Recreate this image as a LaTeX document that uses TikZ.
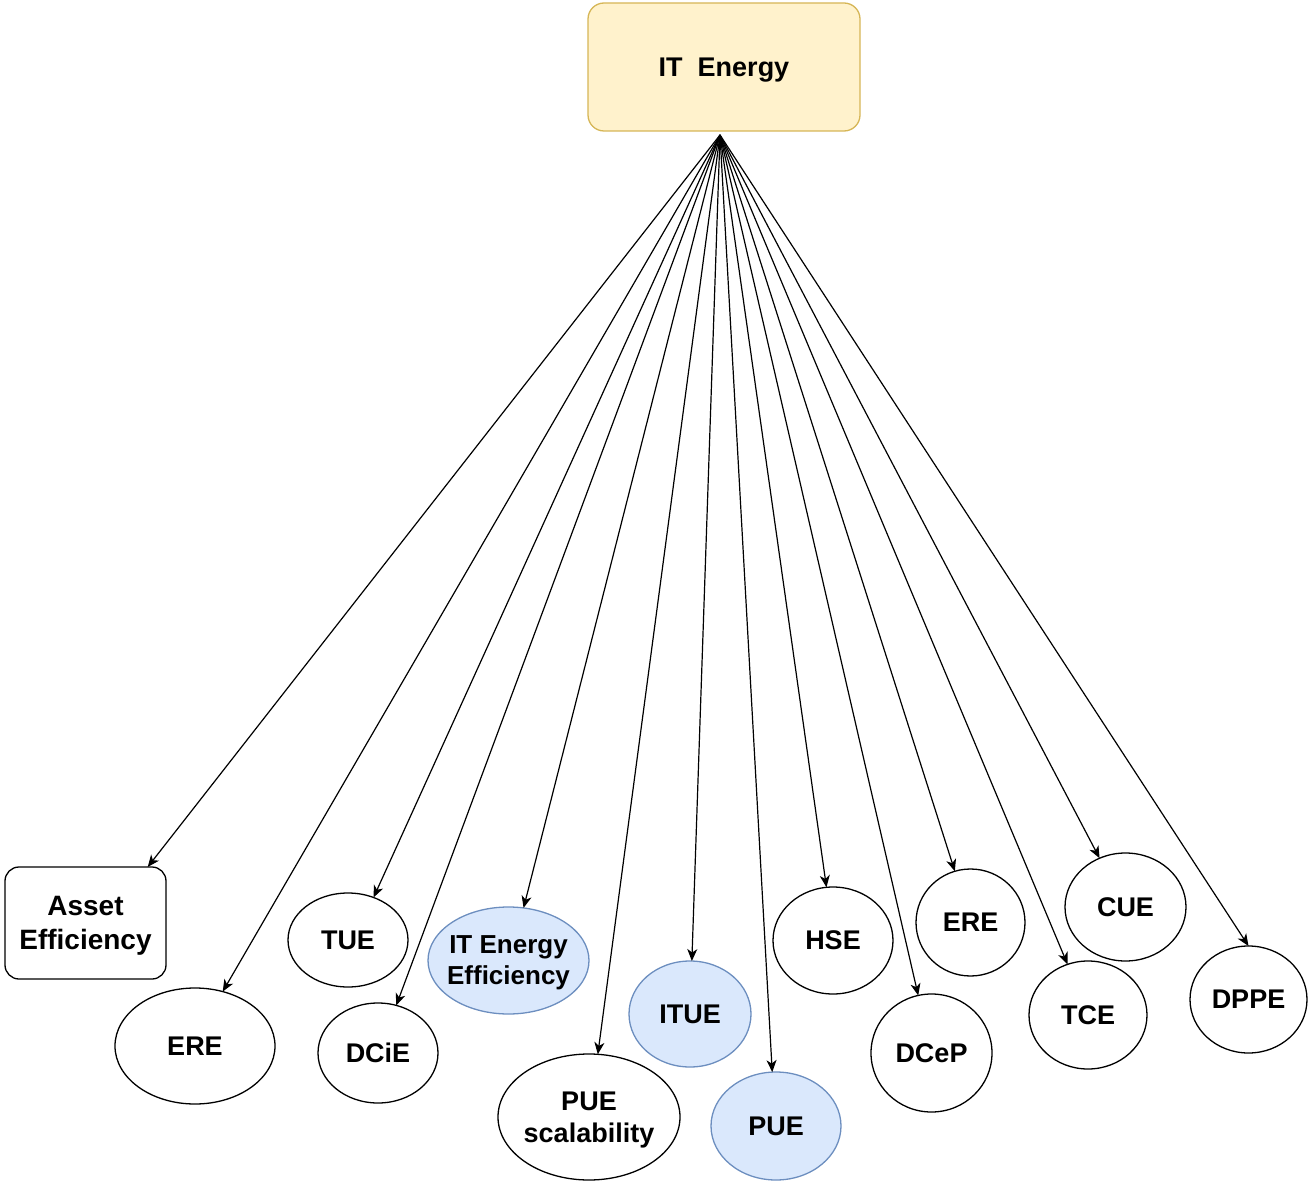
\documentclass[tikz,border=0pt]{standalone}
\usepackage{fontspec}
\setmainfont{Liberation Sans}
\usetikzlibrary{shapes.geometric,arrows.meta}
\definecolor{boxyellow}{HTML}{FFF2CC}
\definecolor{lineyellow}{HTML}{D6B656}
\definecolor{boxblue}{HTML}{DAE8FC}
\definecolor{lineblue}{HTML}{6C8EBF}
\begin{document}
\begin{tikzpicture}[x=1pt,y=-1pt,
  every node/.style={font=\bfseries\fontsize{27}{32}\selectfont, align=center, inner sep=0pt, outer sep=0pt, text depth=0pt},
  metric/.style={ellipse, draw=black, line width=1.3pt, fill=white},
  bluemetric/.style={ellipse, draw=lineblue, line width=1.3pt, fill=boxblue},
  rootbox/.style={rectangle, rounded corners=16pt, draw=lineyellow, line width=1.3pt, fill=boxyellow},
  plainbox/.style={rectangle, rounded corners=14pt, draw=black, line width=1.3pt, fill=white},
  link/.style={-{Stealth[length=12pt,width=10pt,inset=3.5pt]}, line width=1.2pt, black}
]
\useasboundingbox (0,0) rectangle (1309,1182);

% root
\node[rootbox, minimum width=272, minimum height=128] (top) at (724,67) {IT\ \ Energy};
\coordinate (hub) at (720,135);

% leaves
\node[plainbox, minimum width=161, minimum height=112, font=\bfseries\fontsize{28}{34}\selectfont] (asset) at (85.5,923) {Asset\\Efficiency};
\node[metric, minimum width=160, minimum height=116] (ereL) at (195,1046) {ERE};
\node[metric, minimum width=120, minimum height=94] (tue) at (348,940) {TUE};
\node[metric, minimum width=120, minimum height=100] (dcie) at (378,1053) {DCiE};
\node[bluemetric, minimum width=161, minimum height=107,
      label={[font=\bfseries\fontsize{26}{31}\selectfont]center:IT Energy\\Efficiency}] (itee) at (508.5,960.5) {};
\node[metric, minimum width=182, minimum height=126,
      label={center:PUE\\scalability}] (puesc) at (589,1117) {};
\node[bluemetric, minimum width=122, minimum height=106] (itue) at (690,1014) {ITUE};
\node[bluemetric, minimum width=130, minimum height=108] (pue) at (776,1126) {PUE};
\node[metric, minimum width=120, minimum height=107] (hse) at (833,940.5) {HSE};
\node[metric, minimum width=121, minimum height=118] (dcep) at (931.5,1053) {DCeP};
\node[metric, minimum width=109, minimum height=107] (ereR) at (970.5,922.5) {ERE};
\node[metric, minimum width=118, minimum height=108] (tce) at (1088,1015) {TCE};
\node[metric, minimum width=121, minimum height=108] (cue) at (1125.5,907) {CUE};
\node[metric, minimum width=117, minimum height=107] (dppe) at (1248.5,999.5) {DPPE};

% connectors
\draw[link] (hub) -- (asset.42);
\draw[link] (hub) -- (ereL.63);
\draw[link] (hub) -- (tue.59);
\draw[link] (hub) -- (dcie.69);
\draw[link] (hub) -- (itee.74);
\draw[link] (hub) -- (puesc.82);
\draw[link] (hub) -- (itue.88);
\draw[link] (hub) -- (pue.94);
\draw[link] (hub) -- (hse.97);
\draw[link] (hub) -- (dcep.103);
\draw[link] (hub) -- (ereR.107);
\draw[link] (hub) -- (tce.112);
\draw[link] (hub) -- (cue.118);
\draw[link] (hub) -- (dppe.90);
\end{tikzpicture}
\end{document}
